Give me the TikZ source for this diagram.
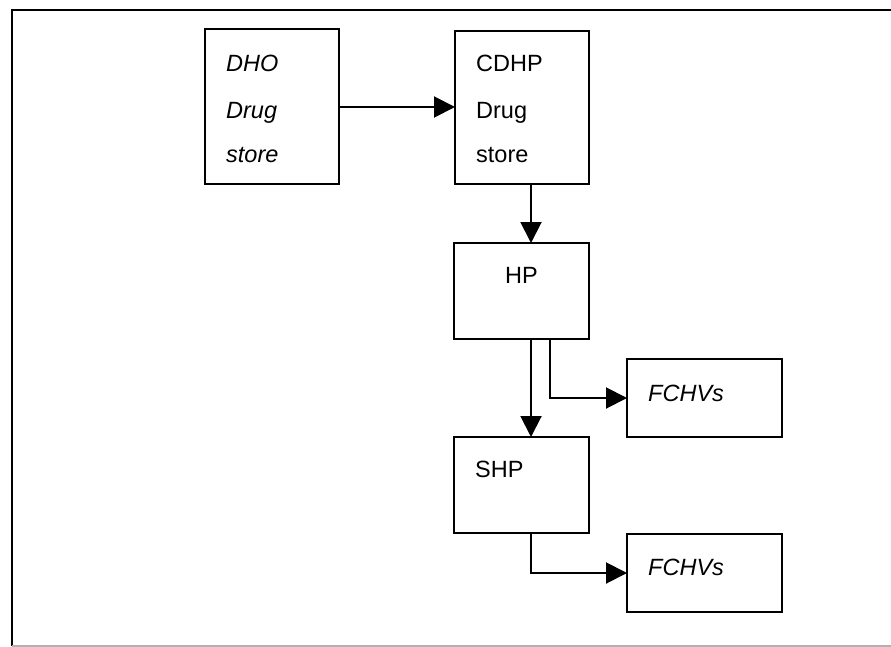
\documentclass[tikz,border=0pt]{standalone}
\usepackage{fontspec}
\setmainfont{Liberation Sans}
\usetikzlibrary{arrows.meta}
\begin{document}
\begin{tikzpicture}[x=1pt,y=-1pt,
  box/.style={draw, line width=2pt, anchor=north west, inner sep=0pt, outer sep=0pt},
  txt/.style={anchor=base west, inner sep=0pt, font=\fontsize{23.5}{23.5}\selectfont},
  itxt/.style={txt, font=\fontsize{23.5}{23.5}\selectfont\itshape},
  arr/.style={line width=2pt, -{Triangle[length=21pt,width=21pt]}}]
\useasboundingbox (0,0) rectangle (891,647);
\clip (0,0) rectangle (891,647);
% frame
\draw[line width=2pt] (900,10) -- (12,10) -- (12,646);
\draw[line width=2pt, black!30] (12,646) -- (900,646);
% boxes
\node[box, minimum width=134pt, minimum height=155pt] (dho) at (205,29) {};
\node[box, minimum width=134pt, minimum height=153pt] (cdhp) at (455,31) {};
\node[box, minimum width=135pt, minimum height=96pt] (hp) at (454,243) {};
\node[box, minimum width=135pt, minimum height=96pt] (shp) at (454,437) {};
\node[box, minimum width=155pt, minimum height=78pt] (f1) at (627,359) {};
\node[box, minimum width=155pt, minimum height=78pt] (f2) at (627,534) {};
% texts
\node[itxt] (t1) at (226,72) {DHO};
\node[itxt] (t2) at (226,119) {Drug};
\node[itxt] (t3) at (226,163) {store};
\node[txt] (t4) at (476,72) {CDHP};
\node[txt] (t5) at (476,119) {Drug};
\node[txt] (t6) at (476,163) {store};
\node[txt] (t7) at (505,283) {HP};
\node[txt] (t8) at (475,477) {SHP};
\node[itxt] (t9) at (648,401) {FCHVs};
\node[itxt] (t10) at (648,575) {FCHVs};
% connectors
\coordinate (xa) at (531,0);
\coordinate (xb) at (550,0);
\coordinate (ya) at (0,107);
\draw[arr] (dho.east |- ya) -- (cdhp.west |- ya);
\draw[arr] (cdhp.south -| xa) -- (hp.north -| xa);
\draw[arr] (hp.south -| xa) -- (shp.north -| xa);
\draw[arr] (hp.south -| xb) |- (f1.west);
\draw[arr] (shp.south -| xa) |- (f2.west);
\end{tikzpicture}
\end{document}
